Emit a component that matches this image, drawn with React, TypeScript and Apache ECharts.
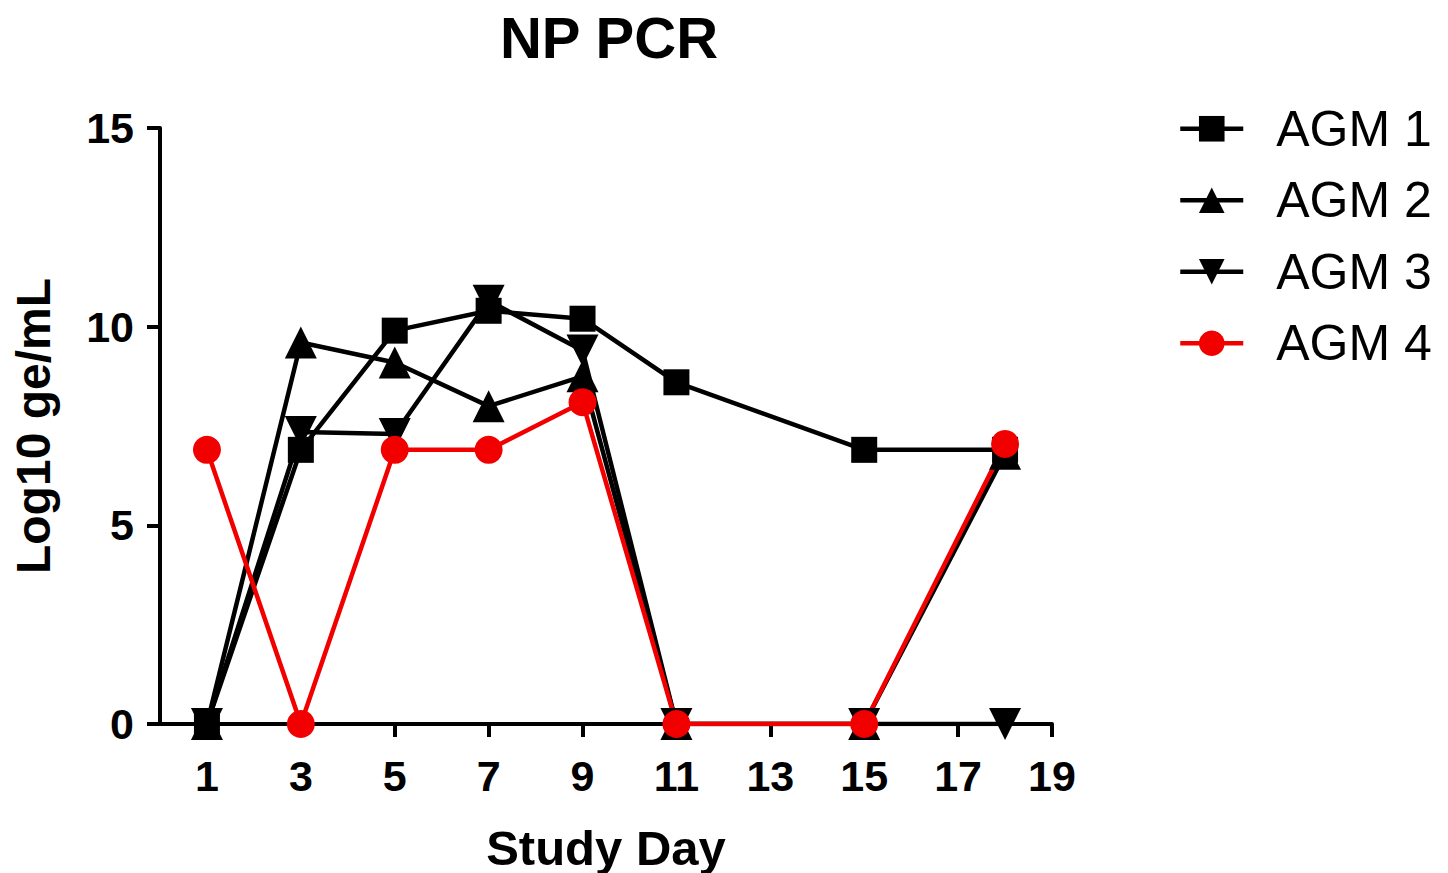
import React, { useEffect, useRef } from "react";
import * as echarts from "echarts";

const days = [1, 3, 5, 7, 9, 11, 15, 18];
const agm1 = [0, 6.9, 9.9, 10.4, 10.2, 8.6, 6.9, 6.9];
const agm2 = [0, 9.6, 9.1, 8.0, 8.75, 0, 0, 6.8];
const agm3 = [0, 7.35, 7.3, 10.65, 9.4, 0, 0, 0];
const agm4 = [6.9, 0, 6.9, 6.9, 8.1, 0, 0, 7.05];
const xTicks = [1, 3, 5, 7, 9, 11, 13, 15, 17, 19];
const yTicks = [0, 5, 10, 15];

const FONT = "'Liberation Sans', Arial, Helvetica, sans-serif";

export default function App() {
  const ref = useRef<HTMLDivElement>(null);
  useEffect(() => {
    if (!ref.current) return;
    const chart = echarts.init(ref.current, undefined, { renderer: "svg" });
    const pair = (arr: number[]) => days.map((d, i) => [d, arr[i]]);
    const mk = (name: string, data: number[], color: string, symbol: string, size: number, rotate = 0) => ({
      name,
      type: "line",
      data: pair(data),
      symbol,
      symbolSize: size,
      symbolRotate: rotate,
      showAllSymbol: true,
      lineStyle: { color, width: 4.5 },
      itemStyle: { color },
      emphasis: { disabled: true },
    });
    chart.setOption({
      animation: false,
      backgroundColor: "#ffffff",
      textStyle: { fontFamily: FONT },
      title: {
        text: "NP PCR",
        left: 604,
        top: 3,
        textAlign: "center",
        textStyle: { fontSize: 58, fontWeight: "bold", color: "#000", fontFamily: FONT },
      },
      grid: { left: 160, right: 396, top: 128, bottom: 149, outerBoundsMode: "none", containLabel: false },
      legend: {
        orient: "vertical",
        left: 1173,
        top: 96,
        itemWidth: 63,
        itemHeight: 32,
        itemGap: 16,
        lineStyle: { width: 4.5 },
        textStyle: { fontSize: 50, color: "#000", fontFamily: FONT, padding: [0, 0, 0, 28], lineHeight: 55.5 },
        data: ["AGM 1", "AGM 2", "AGM 3", "AGM 4"],
      },
      xAxis: {
        type: "value",
        min: 0,
        max: 19,
        name: "Study Day",
        nameLocation: "middle",
        nameGap: 99,
        nameTextStyle: { fontSize: 49, fontWeight: "bold", color: "#000", fontFamily: FONT },
        axisLine: { show: true, onZero: false, lineStyle: { color: "#000", width: 4 } },
        axisTick: { show: true, length: 13, lineStyle: { color: "#000", width: 4 }, customValues: xTicks },
        axisLabel: { customValues: xTicks, fontSize: 43, fontWeight: "bold", color: "#000", margin: 30, fontFamily: FONT },
        splitLine: { show: false },
      },
      yAxis: {
        type: "value",
        min: 0,
        max: 15,
        interval: 5,
        name: "Log10 ge/mL",
        nameLocation: "middle",
        nameGap: 103,
        nameTextStyle: { fontSize: 48, fontWeight: "bold", color: "#000", fontFamily: FONT },
        axisLine: { show: true, lineStyle: { color: "#000", width: 4 } },
        axisTick: { show: true, length: 13, lineStyle: { color: "#000", width: 4 } },
        axisLabel: {
          fontSize: 43, fontWeight: "bold", color: "#000", margin: 26, fontFamily: FONT,
          formatter: (v: number) => (yTicks.includes(v) ? String(v) : ""),
        },
        splitLine: { show: false },
      },
      series: [
        mk("AGM 1", agm1, "#000000", "rect", 26),
        mk("AGM 2", agm2, "#000000", "triangle", 32),
        mk("AGM 3", agm3, "#000000", "triangle", 32, 180),
        mk("AGM 4", agm4, "#f20000", "circle", 28),
      ],
    });
    return () => chart.dispose();
  }, []);
  return <div ref={ref} style={{ width: 1448, height: 873, position: "absolute", left: 0, top: 0 }} />;
}
